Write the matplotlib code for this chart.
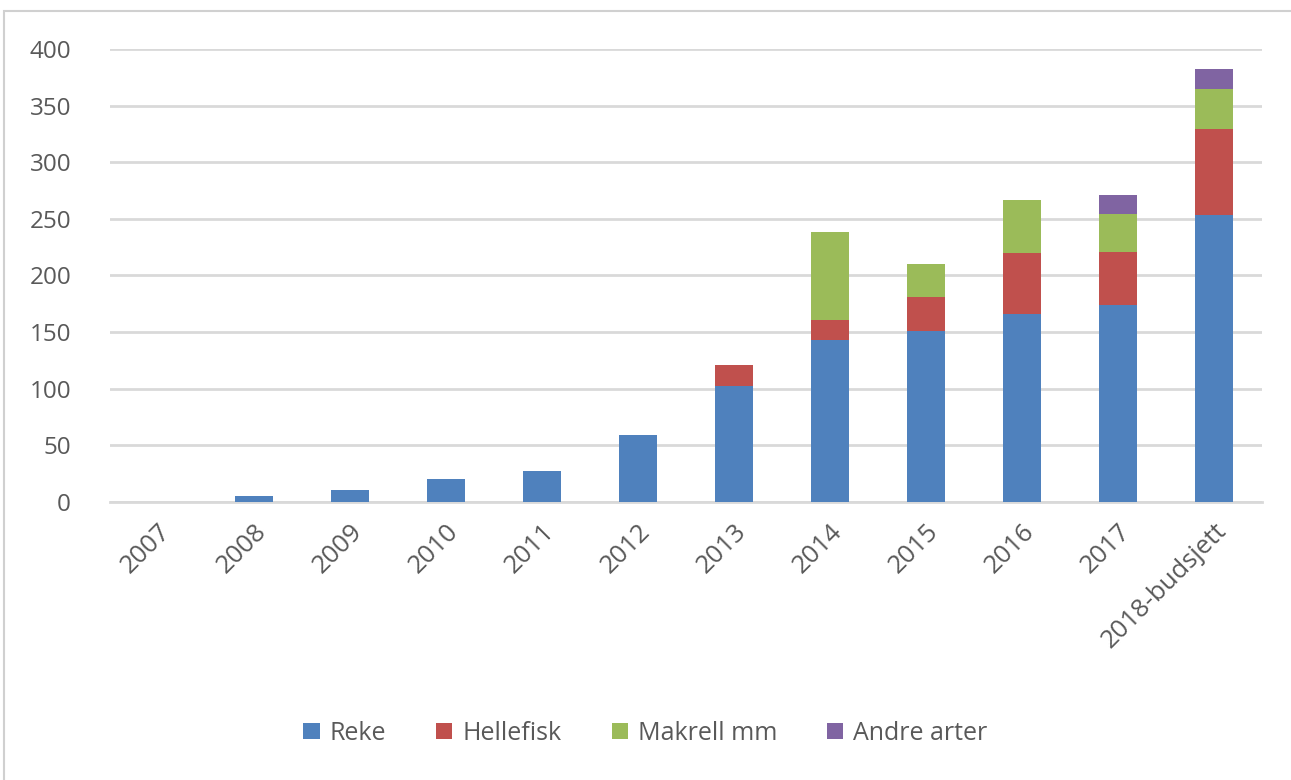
import numpy as np
import matplotlib.pyplot as plt
from matplotlib.patches import Rectangle

# categories and stacked series
years = ['2007', '2008', '2009', '2010', '2011', '2012', '2013', '2014',
         '2015', '2016', '2017', '2018-budsjett']
reke = [0, 5, 11, 20, 27, 59, 102, 143, 151, 166, 174, 253]
hellefisk = [0, 0, 0, 0, 0, 0, 19, 18, 30, 54, 47, 76]
makrell = [0, 0, 0, 0, 0, 0, 0, 77, 29, 47, 33, 36]
andre = [0, 0, 0, 0, 0, 0, 0, 0, 0, 0, 17, 17]

series = [('Reke', reke, '#4f81bd'),
          ('Hellefisk', hellefisk, '#c0504d'),
          ('Makrell mm', makrell, '#9bbb59'),
          ('Andre arter', andre, '#8064a2')]

plt.rcParams['font.family'] = ['Open Sans', 'DejaVu Sans']
text_col = '#595959'

fig = plt.figure(figsize=(12.91, 7.8), dpi=100)
ax = fig.add_axes([0.0852, 0.3564, 0.8923, 0.5808])

# chart frame like the office chart border
fig.patches.append(Rectangle((0.003, -0.01), 1.2, 0.996, transform=fig.transFigure,
                             fill=False, edgecolor='#d0d0d0', linewidth=1.5))

x = np.arange(len(years))
bottom = np.zeros(len(years))
for name, vals, col in series:
    vals = np.array(vals, dtype=float)
    ax.bar(x, vals, width=0.4, bottom=bottom, color=col, label=name,
           edgecolor='none', zorder=3)
    bottom += vals

ax.set_xlim(-0.5, len(years) - 0.5)
ax.set_ylim(0, 400)
ax.set_yticks(range(0, 401, 50))
ax.yaxis.grid(True, color='#d9d9d9', linewidth=2, zorder=0)
for s in ['top', 'right', 'left']:
    ax.spines[s].set_visible(False)
ax.spines['bottom'].set_color('#d9d9d9')
ax.spines['bottom'].set_linewidth(2)
ax.tick_params(axis='both', length=0, labelsize=17.5, colors=text_col)
ax.tick_params(axis='y', pad=28)
ax.set_xticks(x)
ax.set_xticklabels(years, rotation=45, ha='right', rotation_mode='anchor')
ax.tick_params(axis='x', pad=12, labelsize=18.5)

fig.legend(loc='center', bbox_to_anchor=(0.5, 0.06), ncol=4, frameon=False,
           fontsize=18, labelcolor=text_col, handlelength=0.65, handleheight=0.65,
           columnspacing=2.0, handletextpad=0.4)

fig.savefig('out.png', dpi=100)
